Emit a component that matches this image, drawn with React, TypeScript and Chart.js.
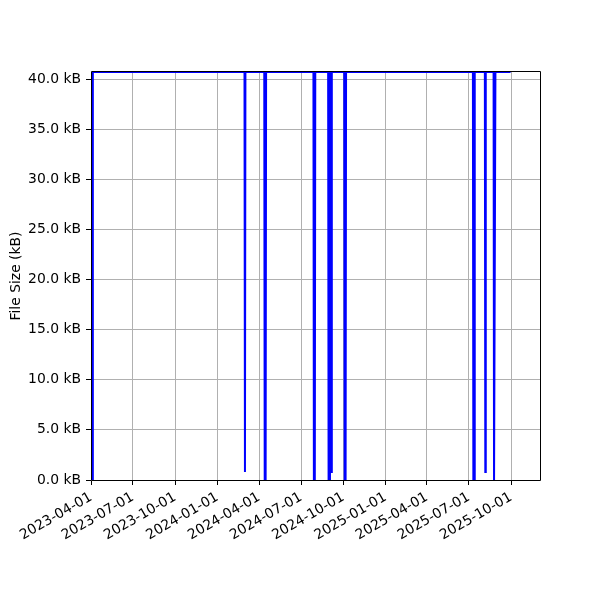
import { useEffect, useRef } from "react"
import { Chart, type ChartConfiguration, registerables } from "chart.js"

Chart.register(...registerables)

// sample dates and file sizes (kB)
const dates = [
  "2023-04-01", "2023-04-02", "2023-04-04", "2023-04-05",
  "2024-02-29", "2024-03-01", "2024-03-02",
  "2024-04-12", "2024-04-13", "2024-04-15", "2024-04-16",
  "2024-07-28", "2024-07-29", "2024-07-31", "2024-08-01",
  "2024-08-29", "2024-08-30", "2024-09-01", "2024-09-02",
  "2024-09-04", "2024-09-05", "2024-09-06",
  "2024-10-03", "2024-10-04", "2024-10-06", "2024-10-07",
  "2025-07-10", "2025-07-11", "2025-07-13", "2025-07-14",
  "2025-08-05", "2025-08-06", "2025-08-07",
  "2025-08-24", "2025-08-25", "2025-08-27", "2025-08-28",
  "2025-09-30",
]
const sizes = [
  40.7, 0, 0, 40.7,
  40.7, 0.8, 40.7,
  40.7, 0, 0, 40.7,
  40.7, 0, 0, 40.7,
  40.7, 0, 0, 40.7,
  40.7, 0.8, 40.7,
  40.7, 0, 0, 40.7,
  40.7, 0, 0, 40.7,
  40.7, 0.8, 40.7,
  40.7, 0, 0, 40.7,
  40.7,
]

const tickDates = [
  "2023-04-01", "2023-07-01", "2023-10-01", "2024-01-01", "2024-04-01",
  "2024-07-01", "2024-10-01", "2025-01-01", "2025-04-01", "2025-07-01", "2025-10-01",
]
const yTicks = [0, 5, 10, 15, 20, 25, 30, 35, 40]
const yMax = 40.7
const xMinDate = "2023-04-01"
const xMaxDate = "2025-12-03"

const DAY = 86400000
const origin = Date.parse(xMinDate)
const toDay = (s: string) => (Date.parse(s) - origin) / DAY
const fromDay = (d: number) => new Date(origin + d * DAY).toISOString().slice(0, 10)

const FONT = { family: "'DejaVu Sans', sans-serif", size: 13.9 }

// axes frame drawn over the line, like matplotlib spines
const spines = {
  id: "spines",
  afterDatasetsDraw(chart: Chart) {
    const { ctx, chartArea } = chart
    const l = Math.round(chartArea.left) + 0.5
    const r = Math.round(chartArea.right) + 0.5
    const t = Math.round(chartArea.top) - 0.5
    const b = Math.round(chartArea.bottom) + 0.5
    ctx.save()
    ctx.strokeStyle = "#000"
    ctx.lineWidth = 1
    ctx.beginPath()
    ctx.moveTo(l, b)
    ctx.lineTo(l, t)
    ctx.lineTo(r, t)
    ctx.lineTo(r, b)
    ctx.closePath()
    ctx.stroke()
    ctx.restore()
  },
}

export default function App() {
  const chartRef = useRef<HTMLCanvasElement>(null)
  const chartInstance = useRef<Chart | null>(null)

  useEffect(() => {
    if (!chartRef.current) return
    if (chartInstance.current) chartInstance.current.destroy()
    const ctx = chartRef.current.getContext("2d")
    if (!ctx) return

    const points = dates.map((d, i) => ({ x: toDay(d), y: sizes[i] }))

    const config: ChartConfiguration = {
      type: "line",
      data: {
        datasets: [
          {
            data: points,
            borderColor: "#0000ff",
            borderWidth: 2,
            pointRadius: 0,
            tension: 0,
            fill: false,
            clip: 0,
          },
        ],
      },
      options: {
        responsive: false,
        animation: false,
        layout: { padding: { top: 72, right: 60, bottom: 0, left: 0 } },
        plugins: {
          legend: { display: false },
          tooltip: { enabled: false },
        },
        scales: {
          x: {
            type: "linear",
            min: toDay(xMinDate),
            max: toDay(xMaxDate),
            border: { display: false },
            grid: { color: "#b0b0b0", lineWidth: 1, tickLength: 5, tickColor: "#000" },
            ticks: {
              autoSkip: false,
              minRotation: 30,
              maxRotation: 30,
              padding: 4,
              color: "#000",
              font: FONT,
              callback: (v) => fromDay(Number(v)),
            },
            afterBuildTicks: (scale) => {
              scale.ticks = tickDates.map((d) => ({ value: toDay(d) }))
            },
            afterFit: (scale) => {
              scale.height = 120
              scale.paddingLeft = 0
              scale.paddingRight = 0
            },
          },
          y: {
            min: 0,
            max: yMax,
            border: { display: false },
            grid: { color: "#b0b0b0", lineWidth: 1, tickLength: 5, tickColor: "#000" },
            ticks: {
              padding: 5,
              color: "#000",
              font: FONT,
              callback: (v) => `${Number(v).toFixed(1)} kB`,
            },
            afterBuildTicks: (scale) => {
              scale.ticks = yTicks.map((v) => ({ value: v }))
            },
            afterFit: (scale) => {
              scale.width = 91
            },
            title: {
              display: true,
              text: "File Size (kB)",
              color: "#000",
              font: FONT,
              padding: { top: 8, bottom: 0 },
            },
          },
        },
      },
      plugins: [spines],
    }

    chartInstance.current = new Chart(ctx, config)

    return () => {
      if (chartInstance.current) {
        chartInstance.current.destroy()
        chartInstance.current = null
      }
    }
  }, [])

  return (
    <div style={{ position: "fixed", left: 0, top: 0, width: 600, height: 600, background: "#fff" }}>
      <canvas ref={chartRef} width={600} height={600} />
    </div>
  )
}
